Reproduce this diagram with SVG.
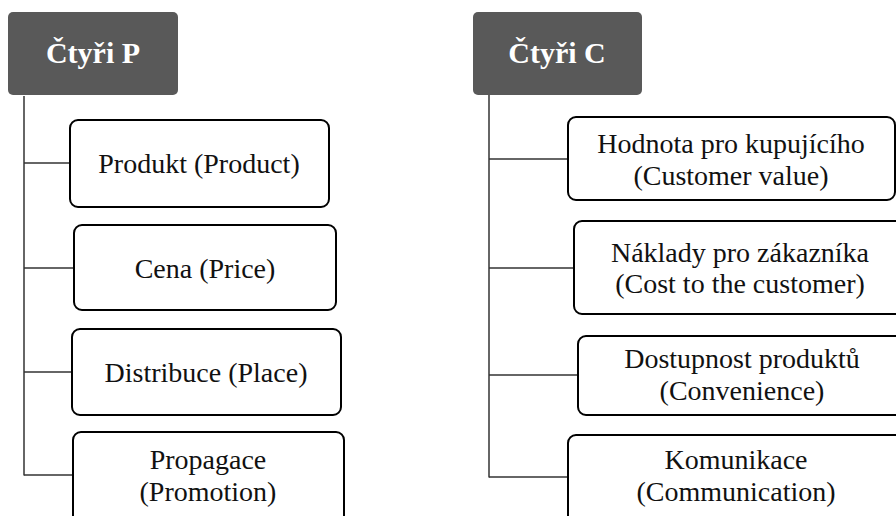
<svg xmlns="http://www.w3.org/2000/svg" width="896" height="516" viewBox="0 0 896 516">
  <style>
    text { font-family: 'Liberation Serif', Tinos, 'Times New Roman', 'DejaVu Serif', serif; text-anchor: middle; }
    .head rect { fill: #595959; }
    .head text { font-weight: bold; font-size: 30px; fill: #ffffff; }
    .item rect { fill: #ffffff; stroke: #000000; stroke-width: 2; }
    .item text { font-size: 28px; fill: #111111; }
    .links path { fill: none; stroke: #333333; stroke-width: 1.5; }
  </style>
  <rect width="896" height="516" fill="#ffffff"/>

  <!-- tree lines -->
  <g class="links" id="connectors">
    <path d="M24 96 V475.5"/>
    <path d="M24 163 H70"/>
    <path d="M24 268 H74"/>
    <path d="M24 372 H72"/>
    <path d="M24 475 H73"/>
    <path d="M489 95 V477.5"/>
    <path d="M489 159 H568"/>
    <path d="M489 268 H574"/>
    <path d="M489 375 H578"/>
    <path d="M489 477 H568"/>
  </g>

  <!-- left column: 4P -->
  <g class="head" id="ctyri-p">
    <rect x="8" y="12" width="170" height="83" rx="5"/>
    <text x="93" y="63">Čtyři P</text>
  </g>
  <g class="item" id="produkt">
    <rect x="70" y="120" width="259" height="87" rx="8"/>
    <text x="199" y="173">Produkt (Product)</text>
  </g>
  <g class="item" id="cena">
    <rect x="74" y="225" width="262" height="85" rx="8"/>
    <text x="205" y="278">Cena (Price)</text>
  </g>
  <g class="item" id="distribuce">
    <rect x="72" y="329" width="269" height="86" rx="8"/>
    <text x="206" y="382">Distribuce (Place)</text>
  </g>
  <g class="item" id="propagace">
    <rect x="73" y="432" width="271" height="100" rx="8"/>
    <text x="208" y="469">Propagace</text>
    <text x="208" y="501">(Promotion)</text>
  </g>

  <!-- right column: 4C -->
  <g class="head" id="ctyri-c">
    <rect x="473" y="12" width="169" height="83" rx="5"/>
    <text x="557" y="63">Čtyři C</text>
  </g>
  <g class="item" id="hodnota">
    <rect x="568" y="117" width="327" height="83" rx="8"/>
    <text x="731" y="153">Hodnota pro kupujícího</text>
    <text x="731" y="185">(Customer value)</text>
  </g>
  <g class="item" id="naklady">
    <rect x="574" y="221" width="340" height="93" rx="8"/>
    <text x="740" y="262">Náklady pro zákazníka</text>
    <text x="740" y="293">(Cost to the customer)</text>
  </g>
  <g class="item" id="dostupnost">
    <rect x="578" y="336" width="340" height="79" rx="8"/>
    <text x="742" y="368">Dostupnost produktů</text>
    <text x="742" y="400">(Convenience)</text>
  </g>
  <g class="item" id="komunikace">
    <rect x="568" y="435" width="340" height="100" rx="8"/>
    <text x="736" y="469">Komunikace</text>
    <text x="736" y="501">(Communication)</text>
  </g>
</svg>
